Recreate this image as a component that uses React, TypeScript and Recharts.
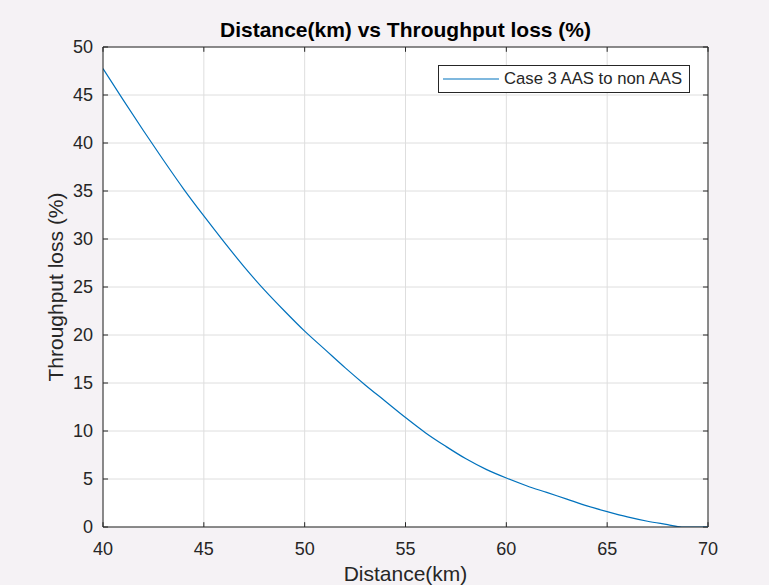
import React from "react";
import {
  LineChart,
  Line,
  XAxis,
  YAxis,
  CartesianGrid,
  ReferenceLine,
} from "recharts";

// distance (km) vs throughput loss (%)
const distanceKm = [
  40, 41, 42, 43, 44, 45, 46, 47, 48, 49, 50, 51, 52, 53, 54, 55, 56, 57, 58,
  59, 60, 61, 62, 63, 64, 65, 66, 67, 68, 68.7, 69, 70,
];
const throughputLoss = [
  47.75, 44.5, 41.3, 38.2, 35.2, 32.4, 29.7, 27.1, 24.7, 22.5, 20.4, 18.5, 16.6,
  14.8, 13.1, 11.4, 9.8, 8.4, 7.1, 6.0, 5.1, 4.3, 3.6, 2.9, 2.2, 1.6, 1.05, 0.6,
  0.25, 0, 0, 0,
];
const xTicks = [40, 45, 50, 55, 60, 65, 70];
const yTicks = [0, 5, 10, 15, 20, 25, 30, 35, 40, 45, 50];

const chartTitle = "Distance(km) vs Throughput loss (%)";
const xLabel = "Distance(km)";
const yLabel = "Throughput loss (%)";
const seriesName = "Case 3 AAS to non AAS";

const data = distanceKm.map((d, i) => ({ distance: d, loss: throughputLoss[i] }));

const FONT = '"Liberation Sans", Arial, Helvetica, sans-serif';
const INK = "#262626";
const LINE = "#0072BD";

function LegendBox() {
  return (
    <div
      style={{
        position: "absolute",
        top: 65,
        left: 438,
        width: 252,
        height: 28,
        border: `1px solid ${INK}`,
        background: "#fff",
        display: "flex",
        alignItems: "center",
        fontFamily: FONT,
        fontSize: 16.7,
        color: INK,
        boxSizing: "border-box",
        whiteSpace: "nowrap",
      }}
    >
      <svg width={65} height={26} style={{ flex: "none" }}>
        <line x1={4} x2={60} y1={13} y2={13} stroke={LINE} strokeWidth={1.2} />
      </svg>
      <span>{seriesName}</span>
    </div>
  );
}

function YLabel(props: any) {
  const vb = props.viewBox || {};
  const x = vb.x + 15;
  const y = vb.y + vb.height / 2;
  return (
    <text
      x={x}
      y={y}
      transform={`rotate(-90, ${x}, ${y})`}
      textAnchor="middle"
      dominantBaseline="central"
      fontFamily={FONT}
      fontSize={21}
      fill={INK}
    >
      {yLabel}
    </text>
  );
}

function XLabel(props: any) {
  const vb = props.viewBox || {};
  return (
    <text
      x={vb.x + vb.width / 2}
      y={581}
      textAnchor="middle"
      fontFamily={FONT}
      fontSize={21}
      fill={INK}
    >
      {xLabel}
    </text>
  );
}

export default function App() {
  const tickX = 0.25; // tick mark length in x units (~5px)
  const tickY = 0.5; // tick mark length in y units (~5px)

  return (
    <div
      style={{
        position: "fixed",
        top: 0,
        left: 0,
        width: 769,
        height: 585,
        background: "#f5f2f5",
        overflow: "hidden",
      }}
    >
      <div
        style={{
          position: "absolute",
          top: 19,
          left: 103,
          width: 605,
          textAlign: "center",
          fontFamily: FONT,
          fontWeight: "bold",
          fontSize: 21,
          lineHeight: 1,
          color: "#000",
          whiteSpace: "nowrap",
        }}
      >
        {chartTitle}
      </div>
      <LineChart
        width={769}
        height={585}
        data={data}
        margin={{ top: 47, right: 61, bottom: 28, left: 40 }}
      >
        <CartesianGrid stroke="#dedede" strokeWidth={1} fill="#fff" />
        <XAxis
          type="number"
          dataKey="distance"
          domain={[40, 70]}
          ticks={xTicks}
          allowDataOverflow
          height={30}
          tickLine={false}
          tickMargin={9}
          axisLine={{ stroke: INK, strokeWidth: 1 }}
          tick={{ fill: INK, fontSize: 18, fontFamily: FONT }}
          label={<XLabel />}
        />
        <YAxis
          type="number"
          domain={[0, 50]}
          ticks={yTicks}
          allowDataOverflow
          width={63}
          tickLine={false}
          tickMargin={4}
          axisLine={{ stroke: INK, strokeWidth: 1 }}
          tick={{ fill: INK, fontSize: 18, fontFamily: FONT }}
          label={<YLabel />}
        />
        {/* box on the top and right */}
        <ReferenceLine y={50} stroke={INK} strokeWidth={1} />
        <ReferenceLine x={70} stroke={INK} strokeWidth={1} />
        {/* inward tick marks on all four sides */}
        {xTicks.map((t) => (
          <ReferenceLine
            key={`xb${t}`}
            segment={[
              { x: t, y: 0 },
              { x: t, y: tickY },
            ]}
            stroke={INK}
          />
        ))}
        {xTicks.map((t) => (
          <ReferenceLine
            key={`xt${t}`}
            segment={[
              { x: t, y: 50 },
              { x: t, y: 50 - tickY },
            ]}
            stroke={INK}
          />
        ))}
        {yTicks.map((t) => (
          <ReferenceLine
            key={`yl${t}`}
            segment={[
              { x: 40, y: t },
              { x: 40 + tickX, y: t },
            ]}
            stroke={INK}
          />
        ))}
        {yTicks.map((t) => (
          <ReferenceLine
            key={`yr${t}`}
            segment={[
              { x: 70, y: t },
              { x: 70 - tickX, y: t },
            ]}
            stroke={INK}
          />
        ))}
        <Line
          type="monotone"
          dataKey="loss"
          name={seriesName}
          stroke={LINE}
          strokeWidth={1.2}
          dot={false}
          isAnimationActive={false}
        />
      </LineChart>
      <LegendBox />
    </div>
  );
}
